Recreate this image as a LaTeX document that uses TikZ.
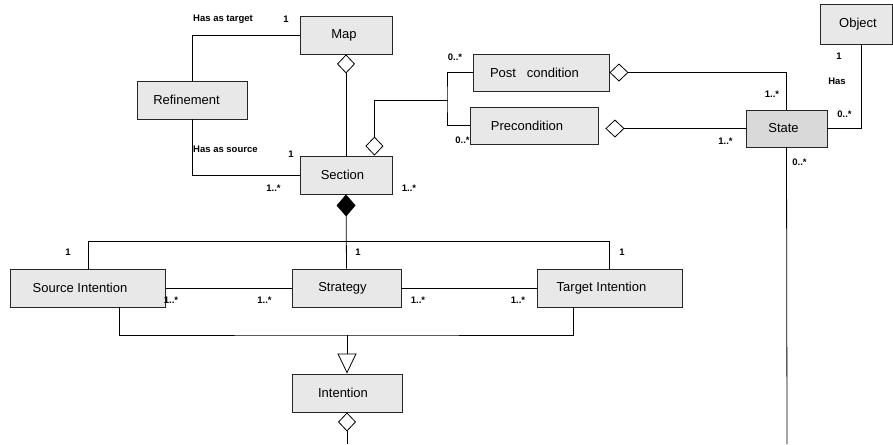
\documentclass[tikz,border=0pt]{standalone}
\usepackage{fontspec}
\setmainfont{Liberation Sans}
\usetikzlibrary{arrows.meta,calc}
\definecolor{boxfill}{HTML}{E8E8E8}
\definecolor{statefill}{HTML}{D9D9D9}
\newcommand{\lsh}[1]{\kern#1pt}
\tikzset{
  cls/.style={draw=black!85, line width=0.9pt, fill=boxfill, minimum height=38pt, inner sep=0pt, font=\fontsize{13}{15}\selectfont},
  lbl/.style={font=\bfseries\fontsize{9.5}{11}\selectfont, inner sep=0pt},
  conn/.style={draw=black, line width=0.8pt},
  agg/.style={{Diamond[open,length=19pt,width=18pt,line width=0.8pt]}-},
  comp/.style={{Diamond[length=22pt,width=19pt]}-},
  gen/.style={-{Triangle[open,length=20pt,width=19pt,line width=0.8pt]}},
}
\begin{document}
\begin{tikzpicture}[x=1pt,y=-1pt]
\useasboundingbox (0,0) rectangle (893,444);
% classes
\node[cls, minimum width=92pt] (map) at (346,35) {Map\lsh{4}};
\node[cls, minimum width=110pt] (ref) at (192,100) {Refinement\lsh{11}};
\node[cls, minimum width=92pt] (sec) at (346,175) {Section\lsh{7}};
\node[cls, minimum width=136pt, minimum height=37pt] (post) at (541,72.5) {Post\ \ \ condition\lsh{13}};
\node[cls, minimum width=128pt, minimum height=37pt] (pre) at (534,125.5) {Precondition\lsh{14}};
\node[cls, fill=statefill, minimum width=81pt, minimum height=37pt] (state) at (786.5,128.5) {State\lsh{6}};
\node[cls, minimum width=72pt, minimum height=40pt] (obj) at (856.5,24) {\lsh{3}Object};
\node[cls, minimum width=155pt] (si) at (88,288) {Source Intention\lsh{16}};
\node[cls, minimum width=109pt] (str) at (346.5,288) {Strategy\lsh{8}};
\node[cls, minimum width=145pt] (ti) at (609.5,288) {Target Intention\lsh{16}};
\node[cls, minimum width=110pt] (int) at (347,393) {Intention\lsh{8}};
% free ends
\coordinate (stateend) at (787,444);
\coordinate (intend) at (347,444);
\coordinate (junc) at (448,100);
\coordinate (gm) at (347,335);
\coordinate (pred) at ($(pre.east|-state.west)+(7,0)$);
% Map / Refinement / Section
\draw[conn] (ref.north) |- (map.west);
\draw[conn] (ref.south) |- (sec.west);
\draw[conn, agg] (map.south) -- (sec.north);
% Section to conditions
\draw[conn, agg] ([xshift=-18pt]sec.north east) |- (junc);
\draw[conn] (post.west) -| ([xshift=-1pt]junc) |- (pre.west);
\draw[conn, agg] (post.east) -| (state.north);
\draw[conn, agg] (pred) -- (state.west);
\draw[conn] (state.east) -| ([xshift=5pt]obj.south);
\draw[conn] (state.south) -- (stateend);
% composition
\draw[conn, comp] (sec.south) -- (str.north);
\draw[conn] (si.north) -- ++(0,-27) -| (ti.north);
\draw[conn] (si.east) -- (str.west);
\draw[conn] (str.east) -- (ti.west);
% generalization
\draw[conn] ([xshift=31pt]si.south) |- (gm) -| ([xshift=-36.5pt]ti.south);
\draw[conn, gen] (gm) -- (int.north);
\draw[conn, agg] (int.south) -- (intend);
% labels
\node[lbl, anchor=west] (l1) at (193,19) {Has as target};
\node[lbl] (l2) at (286,19) {1};
\node[lbl, anchor=west] (l3) at (193,149) {Has as source};
\node[lbl] (l4) at (291,154) {1};
\node[lbl] (l5) at (273.5,188) {1..*};
\node[lbl] (l6) at (409,188) {1..*};
\node[lbl] (l7) at (455,57) {0..*};
\node[lbl] (l8) at (462.5,140) {0..*};
\node[lbl] (l9) at (772,94) {1..*};
\node[lbl] (l10) at (725.5,141) {1..*};
\node[lbl] (l11) at (839,56) {1};
\node[lbl] (l12) at (837,81) {Has};
\node[lbl] (l13) at (844.5,114) {0..*};
\node[lbl] (l14) at (799.5,162) {0..*};
\node[lbl] (l15) at (68,252) {1};
\node[lbl] (l16) at (358,252) {1};
\node[lbl] (l17) at (622,252) {1};
\node[lbl] (l18) at (171,300) {1..*};
\node[lbl] (l19) at (264.5,300) {1..*};
\node[lbl] (l20) at (418,300) {1..*};
\node[lbl] (l21) at (518,300) {1..*};
\end{tikzpicture}
\end{document}
